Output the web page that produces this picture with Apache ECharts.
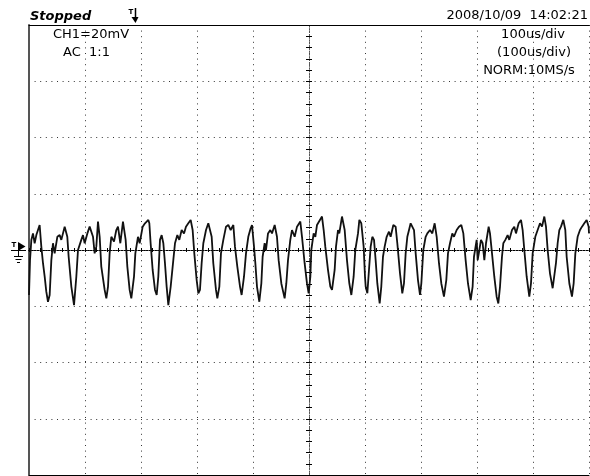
<!DOCTYPE html>
<html><head><meta charset="utf-8">
<script src="https://cdn.jsdelivr.net/npm/echarts@6/dist/echarts.min.js"></script>
<style>html,body{margin:0;padding:0;background:#fff}#c{width:590px;height:476px}</style>
</head><body><div id="c"></div>
<script>
// ---- texts ----
const statusText = 'Stopped';
const dateText = '2008/10/09  14:02:21';
const channelLabels = ['CH1=20mV', 'AC  1:1'];
const timebaseLabels = ['100us/div', '(100us/div)', 'NORM:10MS/s'];
// ---- scales: time in microseconds, CH1 in millivolts ----
const timeRangeUs = [0, 1000];
const timeDivUs = 100;
const voltRangeMv = [-80, 80];
const voltDivMv = 20;
// ---- CH1 trace [time us, voltage mV] ----
const trace0 = [[0,-16.0],[1.8,-3.6],[4.2,3.6],[7.1,5.9],[10.1,2.4],[13.1,5.3],[19.0,8.9],[22.0,1.2],[25.0,-4.7],[28.0,-9.5],[30.9,-14.8],[33.9,-18.4],[36.9,-16.0],[39.9,-3.6],[42.8,2.4],[45.8,-1.2],[50.6,4.7],[54.8,5.3],[57.7,3.6],[63.7,8.3],[68.4,4.7],[70.8,-2.4],[75.6,-13.0],[80.4,-19.6],[84.5,-9.5],[87.5,0],[93.4,3.6],[96.4,5.3],[99.4,2.4],[104.2,5.9],[108.3,8.3],[114.3,4.7],[117.2,-1.2],[120.2,1.2],[123.2,10.1],[126.2,4.7],[129.1,-5.9],[135.1,-14.2],[138.1,-17.2],[141.1,-13.0],[144.0,-1.2],[147.0,4.7],[151.8,3.0],[155.9,7.1],[158.9,8.3],[163.1,2.4],[167.8,10.1],[172.6,3.6],[175.6,-5.9],[179.7,-14.2],[182.7,-17.2],[187.5,-9.5],[189.9,-1.2],[194.6,4.7],[197.6,2.4]];
const trace1 = [[203.0,8.3],[207.1,9.5],[213.1,10.7],[214.9,9.5],[217.2,2.4],[220.8,-7.1],[225.0,-14.2],[228.0,-16.0],[230.9,-9.5],[233.9,3.6],[236.9,5.3],[239.9,2.4],[242.8,-4.7],[245.8,-13.0],[248.8,-19.6],[253.0,-13.0],[257.7,-3.6],[260.7,2.4],[264.9,5.3],[268.4,3.6],[272.6,7.1],[276.8,5.9],[280.3,8.3],[284.5,9.5],[288.7,10.7],[292.2,7.1],[295.2,-1.2],[299.4,-10.7],[302.4,-15.4],[305.3,-14.2],[308.3,-4.7],[311.3,2.4],[316.1,7.1],[320.2,9.5],[323.2,10.1],[326.2,4.7],[329.1,-4.7],[333.9,-14.2],[336.3,-17.2],[339.9,-13.0],[342.8,-1.2],[347.0,3.6],[351.8,8.3],[355.9,8.9],[360.1,7.1],[364.9,8.9],[367.8,1.2],[372.0,-5.9],[376.8,-13.0],[379.7,-16.0],[383.9,-9.5],[387.5,-1.2],[391.6,4.7],[395.8,7.7],[398.2,8.9]];
const trace2 = [[401.8,1.2],[404.2,-4.7],[407.1,-13.0],[411.3,-18.4],[414.9,-11.9],[417.2,-2.4],[420.8,2.4],[423.2,0],[426.8,5.9],[430.9,7.1],[433.9,5.9],[438.7,8.9],[442.8,4.7],[445.8,-3.6],[450.6,-11.9],[456.5,-17.2],[459.5,-11.9],[462.5,-3.6],[466.6,3.6],[469.6,7.1],[474.4,4.7],[478.6,8.3],[484.5,10.1],[487.5,4.7],[492.2,-4.7],[496.4,-11.9],[499.4,-15.4],[502.4,-9.5],[504.1,0],[508.3,5.9],[511.3,4.7],[514.3,8.9],[517.2,9.5],[523.2,11.9],[526.2,7.1],[529.1,1.2],[533.9,-7.1],[538.1,-13.0],[541.1,-14.2],[545.8,-7.1],[548.2,1.2],[551.8,7.1],[554.1,5.9],[558.9,11.9],[563.7,7.1],[567.8,-3.6],[572.0,-11.9],[575.6,-16.0],[579.7,-9.5],[582.7,0],[587.5,5.9],[589.9,10.7],[593.4,9.5],[597.6,1.2]];
const trace3 = [[600.0,-9.5],[601.2,-13.0],[604.2,-15.4],[607.1,-7.1],[610.1,1.2],[613.1,4.7],[616.1,3.6],[619.0,-3.6],[622.0,-11.9],[626.2,-19.0],[629.1,-13.0],[632.1,-2.4],[635.1,1.2],[638.7,4.7],[642.8,6.5],[645.8,4.7],[650.6,8.9],[654.7,8.3],[657.7,2.4],[662.5,-8.3],[666.6,-15.4],[669.6,-11.9],[672.6,-1.2],[675.6,4.7],[678.6,7.1],[681.5,9.5],[684.5,10.1],[687.5,7.1],[690.5,-1.2],[694.6,-10.7],[698.2,-16.0],[700.6,-11.9],[704.1,0],[708.3,4.7],[711.3,5.9],[716.1,7.1],[720.2,5.9],[724.4,9.5],[728.0,4.7],[732.1,-4.7],[736.3,-11.9],[741.0,-16.6],[745.2,-10.7],[748.2,-1.2],[751.8,2.4],[755.9,5.9],[758.9,4.7],[763.7,7.1],[767.8,8.3],[772.0,8.9],[775.6,5.9],[779.7,-3.6],[783.9,-11.9],[788.7,-17.8],[792.2,-13.0],[794.6,-2.4],[799.4,3.6]];
const trace4 = [[801.2,-3.6],[804.2,0],[807.1,3.6],[810.1,2.4],[813.1,-3.6],[816.1,2.4],[820.8,8.3],[823.2,5.9],[826.8,-1.2],[830.9,-9.5],[835.1,-16.6],[838.1,-19.0],[841.1,-13.0],[844.6,-2.4],[847.0,2.4],[850.6,3.6],[854.7,5.3],[857.7,3.6],[862.5,7.1],[866.6,8.3],[869.6,5.9],[874.4,9.5],[878.6,10.7],[881.5,7.1],[884.5,0],[888.7,-9.5],[893.4,-16.6],[896.4,-11.9],[899.4,-1.2],[904.1,4.7],[908.3,7.1],[912.5,9.5],[916.1,8.3],[920.2,11.9],[923.2,8.3],[926.2,0],[930.3,-8.3],[935.1,-13.6],[938.1,-13.0],[941.0,-4.7],[944.0,2.4],[947.0,7.1],[950.0,8.3],[954.1,10.7],[957.7,7.1],[960.1,-2.4],[964.9,-11.9],[969.6,-16.6],[972.6,-11.9],[975.6,-1.2],[979.7,4.7],[983.9,7.1],[987.5,8.3],[991.6,9.5],[995.8,10.7],[999.4,8.3],[1000,5.9]];

const ch1 = [].concat(trace0, trace1, trace2, trace3, trace4);

const FONT = '"DejaVu Sans"';
const dotted = { color: '#333', width: 1, type: [1, 4.6] };

function baseX(extra) {
  return Object.assign({
    type: 'value', min: timeRangeUs[0], max: timeRangeUs[1], interval: timeDivUs,
    axisLabel: { show: false }, axisTick: { show: false }, splitLine: { show: false }
  }, extra);
}
function baseY(extra) {
  return Object.assign({
    type: 'value', min: voltRangeMv[0], max: voltRangeMv[1], interval: voltDivMv,
    axisLabel: { show: false }, axisTick: { show: false }, splitLine: { show: false }
  }, extra);
}
const centerTickX = { show: true, inside: true, length: 2, lineStyle: { color: '#000', width: 1 } };
const centerTickY = { show: true, inside: true, length: 3, lineStyle: { color: '#000', width: 1 } };

const chart = echarts.init(document.getElementById('c'), null, { renderer: 'canvas' });
chart.setOption({
  animation: false,
  backgroundColor: '#fff',
  grid: { left: 29, top: 25, width: 560, height: 450, show: false },
  xAxis: [
    baseX({ position: 'bottom', axisLine: { onZero: false, lineStyle: { color: '#000', width: 1 } },
            splitLine: { show: true, lineStyle: dotted } }),
    baseX({ position: 'top', axisLine: { onZero: false, lineStyle: { color: '#000', width: 1 } } }),
    baseX({ position: 'bottom', axisLine: { onZero: true, onZeroAxisIndex: 0, lineStyle: { color: '#000', width: 1, type: [1.4, 1.4] } },
            axisTick: centerTickX, minorTick: { show: true, splitNumber: 5, length: 2, lineStyle: { color: '#000', width: 1 } } }),
    baseX({ position: 'top', axisLine: { onZero: true, onZeroAxisIndex: 0, lineStyle: { color: '#000', width: 1, type: [1.4, 1.4] } },
            axisTick: centerTickX, minorTick: { show: true, splitNumber: 5, length: 2, lineStyle: { color: '#000', width: 1 } } })
  ],
  yAxis: [
    baseY({ position: 'left', axisLine: { show: true, onZero: false, lineStyle: { color: '#555', width: 2 } },
            splitLine: { show: true, lineStyle: dotted } }),
    baseY({ position: 'left', offset: -280, axisLine: { show: true, onZero: false, lineStyle: { color: '#555', width: 1, type: [1, 1.8] } },
            axisTick: centerTickY, minorTick: { show: true, splitNumber: 5, length: 3, lineStyle: { color: '#000', width: 1 } } }),
    baseY({ position: 'right', offset: -280, axisLine: { show: true, onZero: false, lineStyle: { color: '#555', width: 1, type: [1, 1.8] } },
            axisTick: centerTickY, minorTick: { show: true, splitNumber: 5, length: 3, lineStyle: { color: '#000', width: 1 } } })
  ],
  series: [{
    name: 'CH1', type: 'line', xAxisIndex: 0, yAxisIndex: 0, data: ch1,
    showSymbol: false, symbol: 'none', smooth: false, clip: true, z: 10,
    lineStyle: { color: '#111', width: 1.8 }
  }],
  graphic: [
    { type: 'text', x: 30, y: 17, style: { text: statusText, font: 'italic bold 13px ' + FONT, fill: '#000', align: 'left', verticalAlign: 'middle' } },
    { type: 'text', x: 588, y: 15.5, style: { text: dateText, font: '13px ' + FONT, fill: '#000', align: 'right', verticalAlign: 'middle' } },
    { type: 'text', x: 53, y: 34.5, style: { text: channelLabels[0], font: '13px ' + FONT, fill: '#000', align: 'left', verticalAlign: 'middle' } },
    { type: 'text', x: 63, y: 52.5, style: { text: channelLabels[1], font: '13px ' + FONT, fill: '#000', align: 'left', verticalAlign: 'middle' } },
    { type: 'text', x: 533, y: 34.5, style: { text: timebaseLabels[0], font: '13px ' + FONT, fill: '#000', align: 'center', verticalAlign: 'middle' } },
    { type: 'text', x: 534, y: 52.5, style: { text: timebaseLabels[1], font: '13px ' + FONT, fill: '#000', align: 'center', verticalAlign: 'middle' } },
    { type: 'text', x: 529, y: 70.5, style: { text: timebaseLabels[2], font: '13px ' + FONT, fill: '#000', align: 'center', verticalAlign: 'middle' } },
    // trigger position marker
    { type: 'text', x: 131, y: 12, style: { text: 'T', font: 'bold 7px ' + FONT, fill: '#000', align: 'center', verticalAlign: 'middle' } },
    { type: 'line', shape: { x1: 135.5, y1: 8, x2: 135.5, y2: 19 }, style: { stroke: '#000', lineWidth: 1.5 } },
    { type: 'polygon', shape: { points: [[131.5, 17], [138.5, 17], [135.5, 23]] }, style: { fill: '#000' } },
    // trigger level / ground marker
    { type: 'text', x: 14, y: 245.5, style: { text: 'T', font: 'bold 7px ' + FONT, fill: '#000', align: 'center', verticalAlign: 'middle' } },
    { type: 'polygon', shape: { points: [[18, 242], [18, 251], [25.5, 246.5]] }, style: { fill: '#000' } },
    { type: 'line', shape: { x1: 11, y1: 250.5, x2: 26, y2: 250.5 }, style: { stroke: '#000', lineWidth: 1 } },
    { type: 'line', shape: { x1: 18.5, y1: 250, x2: 18.5, y2: 256 }, style: { stroke: '#000', lineWidth: 1 } },
    { type: 'line', shape: { x1: 14, y1: 256.5, x2: 23, y2: 256.5 }, style: { stroke: '#000', lineWidth: 1 } },
    { type: 'line', shape: { x1: 15.5, y1: 259.5, x2: 21.5, y2: 259.5 }, style: { stroke: '#000', lineWidth: 1 } },
    { type: 'line', shape: { x1: 17, y1: 262.5, x2: 20, y2: 262.5 }, style: { stroke: '#000', lineWidth: 1 } }
  ]
});
</script></body></html>
